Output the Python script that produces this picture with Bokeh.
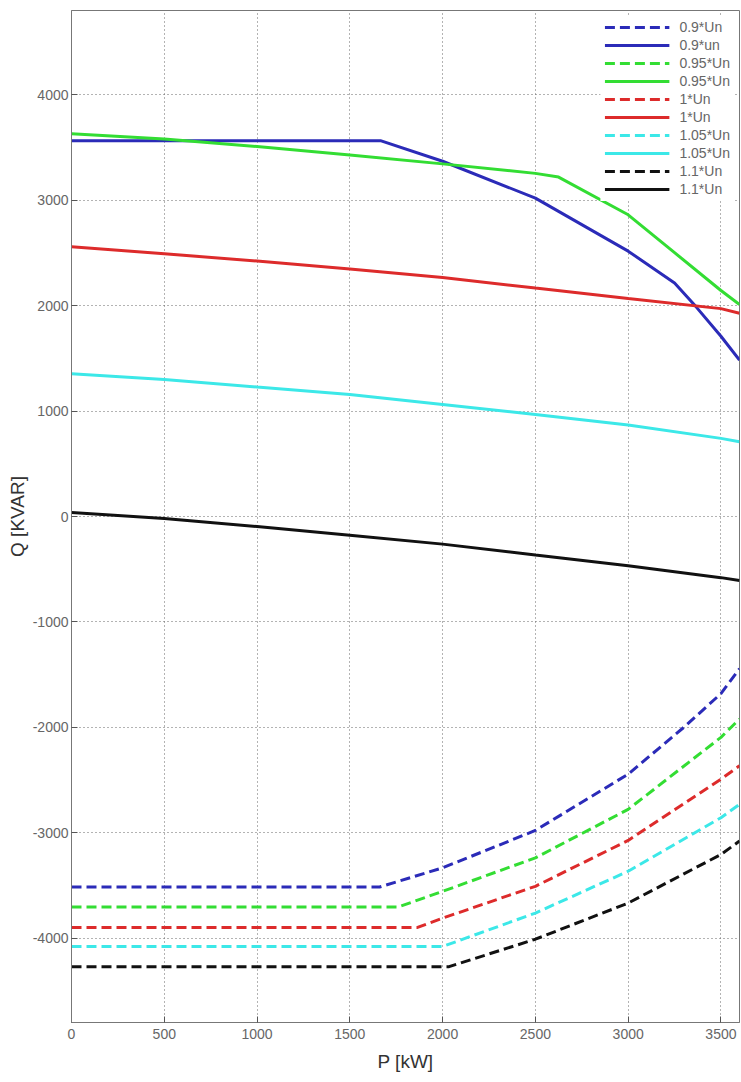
from bokeh.plotting import figure
from bokeh.models import Range1d, FixedTicker, Legend, LegendItem
from bokeh.embed import file_html
from bokeh.resources import INLINE

# ---------------- data ----------------
# solid curves (upper, positive Q)
p_09_solid = [0, 1665, 2000, 2500, 3000, 3250, 3365, 3500, 3600]
q_09_solid = [3565, 3565, 3370, 3020, 2517, 2215, 1991, 1710, 1484]

p_095_solid = [0, 500, 1000, 1500, 2000, 2500, 2625, 3000, 3250, 3500, 3600]
q_095_solid = [3630, 3582, 3510, 3430, 3345, 3255, 3220, 2862, 2503, 2144, 2010]

p_10_solid = [0, 500, 1000, 1500, 2000, 2500, 3000, 3500, 3600]
q_10_solid = [2558, 2492, 2424, 2347, 2268, 2167, 2068, 1972, 1928]

p_105_solid = [0, 500, 1000, 1500, 2000, 2500, 3000, 3500, 3600]
q_105_solid = [1355, 1300, 1228, 1158, 1063, 968, 868, 741, 710]

p_11_solid = [0, 500, 1000, 1500, 2000, 2500, 3000, 3500, 3600]
q_11_solid = [38, -19, -95, -177, -262, -366, -467, -580, -608]

# dashed curves (lower, negative Q)
p_09_dash = [0, 1660, 2000, 2500, 3000, 3300, 3500, 3600]
q_09_dash = [-3515, -3515, -3333, -2978, -2444, -2000, -1680, -1444]

p_095_dash = [0, 1760, 2000, 2500, 3000, 3500, 3600]
q_095_dash = [-3705, -3705, -3556, -3238, -2778, -2095, -1921]

p_10_dash = [0, 1865, 2000, 2500, 3000, 3500, 3600]
q_10_dash = [-3898, -3898, -3810, -3508, -3073, -2492, -2365]

p_105_dash = [0, 2000, 2500, 3000, 3500, 3600]
q_105_dash = [-4079, -4079, -3762, -3365, -2857, -2730]

p_11_dash = [0, 2035, 2500, 3000, 3500, 3600]
q_11_dash = [-4270, -4270, -4010, -3667, -3206, -3079]

x_ticks = [0, 500, 1000, 1500, 2000, 2500, 3000, 3500]
y_ticks = [-4000, -3000, -2000, -1000, 0, 1000, 2000, 3000, 4000]

legend_labels = ["0.9*Un", "0.9*un", "0.95*Un", "0.95*Un", "1*Un", "1*Un",
                 "1.05*Un", "1.05*Un", "1.1*Un", "1.1*Un"]

# ---------------- figure ----------------
p = figure(width=741, height=1082,
           x_range=Range1d(0, 3600), y_range=Range1d(-4800, 4800),
           output_backend="svg", toolbar_location=None,
           min_border_left=71, min_border_right=2,
           min_border_top=10, min_border_bottom=60)

p.background_fill_color = "white"
p.border_fill_color = "white"
p.outline_line_color = "#777777"
p.outline_line_width = 1

FONT = "Liberation Sans"
for ax in (p.xaxis[0], p.yaxis[0]):
    ax.axis_line_color = "#777777"
    ax.major_tick_line_color = "#555555"
    ax.major_tick_in = 6
    ax.major_tick_out = 0
    ax.minor_tick_line_color = None
    ax.major_label_text_font = FONT
    ax.major_label_text_font_size = "14px"
    ax.major_label_text_color = "#666666"
    ax.axis_label_text_font = FONT
    ax.axis_label_text_font_size = "19px"
    ax.axis_label_text_font_style = "normal"
    ax.axis_label_text_color = "#333333"

p.xaxis.ticker = FixedTicker(ticks=x_ticks)
p.yaxis.ticker = FixedTicker(ticks=y_ticks)
p.xaxis.major_label_overrides = {t: str(t) for t in x_ticks}
p.yaxis.major_label_overrides = {t: str(t) for t in y_ticks}
p.xaxis.axis_label = "P [kW]"
p.yaxis.axis_label = "Q [KVAR]"
p.xaxis.major_label_standoff = 6
p.yaxis.major_label_standoff = 3
p.xaxis.axis_label_standoff = 9
p.yaxis.axis_label_standoff = 2

for g in (p.xgrid[0], p.ygrid[0]):
    g.grid_line_color = "#666666"
    g.grid_line_dash = "1 3"
    g.grid_line_width = 1

BLUE = "#2b2bb8"
GREEN = "#33dd33"
RED = "#dd2b2b"
CYAN = "#3ce8e8"
BLACK = "#111111"
LW = 3
DASH = "10 5"

series = [
    (p_09_dash, q_09_dash, BLUE, DASH),
    (p_09_solid, q_09_solid, BLUE, "solid"),
    (p_095_dash, q_095_dash, GREEN, DASH),
    (p_095_solid, q_095_solid, GREEN, "solid"),
    (p_10_dash, q_10_dash, RED, DASH),
    (p_10_solid, q_10_solid, RED, "solid"),
    (p_105_dash, q_105_dash, CYAN, DASH),
    (p_105_solid, q_105_solid, CYAN, "solid"),
    (p_11_dash, q_11_dash, BLACK, DASH),
    (p_11_solid, q_11_solid, BLACK, "solid"),
]

items = []
for (xs, ys, col, dash), lab in zip(series, legend_labels):
    r = p.line(xs, ys, line_color=col, line_width=LW, line_dash=dash)
    items.append(LegendItem(label=lab, renderers=[r]))

legend = Legend(items=items, location="top_right")
legend.border_line_alpha = 0
legend.background_fill_color = "white"
legend.background_fill_alpha = 1
legend.margin = 5
legend.padding = 4
legend.spacing = 2
legend.glyph_width = 65
legend.glyph_height = 14
legend.label_height = 14
legend.label_standoff = 10
legend.label_text_font = FONT
legend.label_text_font_size = "14px"
legend.label_text_color = "#666666"
p.add_layout(legend)

open("out.html", "w").write(file_html(p, INLINE))
